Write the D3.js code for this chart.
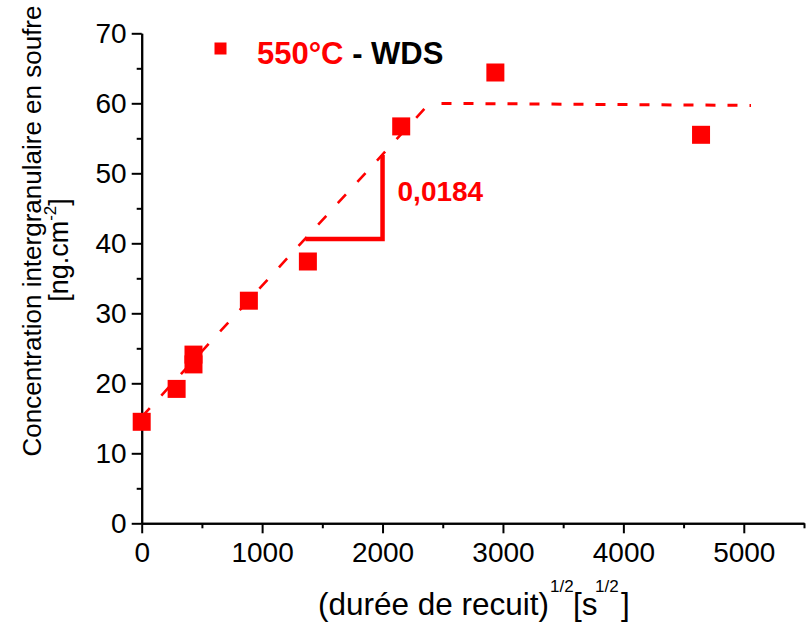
<!DOCTYPE html>
<html>
<head>
<meta charset="utf-8">
<script src="https://cdn.jsdelivr.net/npm/d3@7"></script>
<style>
  body { margin: 0; background: #fff; }
  svg text { font-family: "Liberation Sans", Arial, sans-serif; }
  .axis path, .axis line { stroke: #000; stroke-width: 2; }
  .axis text { font-size: 28px; fill: #000; }
</style>
</head>
<body>
<script>
// measured points: (durée de recuit)^1/2 vs concentration
var xVals = [0, 290, 430, 430, 890, 1380, 2155, 2937, 4645];
var yVals = [14.5, 19.2, 24.1, 22.7, 31.8, 37.4, 56.7, 64.4, 55.5];

// fitted trend (dashed), two pieces
var fitX = [0, 2390, 5060];
var fitY = [15.2, 60.0, 59.7];

// slope triangle
var triX = [1360, 2000, 2000];
var triY = [40.6, 40.6, 52.6];
var slopeLabel = "0,0184";

var xMajor = [0, 1000, 2000, 3000, 4000, 5000];
var xMinor = [500, 1500, 2500, 3500, 4500, 5500];
var yMajor = [0, 10, 20, 30, 40, 50, 60, 70];
var yMinor = [5, 15, 25, 35, 45, 55, 65];

window.onload = function() {
    var svg = d3.select("body").append("svg")
        .attr("width", 808)
        .attr("height", 627);

    var x = d3.scaleLinear().domain([0, 5500]).range([141.7, 804]);
    var y = d3.scaleLinear().domain([0, 70]).range([523.3, 33.3]);

    //minor ticks first, no labels
    svg.append("g").attr("class", "axis")
        .attr("transform", "translate(" + x(0) + ",0)")
        .call(d3.axisLeft(y).tickValues(yMinor).tickSize(5).tickSizeOuter(0).tickFormat(""));
    svg.append("g").attr("class", "axis")
        .attr("transform", "translate(0," + y(0) + ")")
        .call(d3.axisBottom(x).tickValues(xMinor).tickSize(5).tickSizeOuter(0).tickFormat(""));

    svg.append("g").attr("class", "axis")
        .attr("transform", "translate(" + x(0) + ",0)")
        .call(d3.axisLeft(y).tickValues(yMajor).tickSize(10).tickSizeOuter(0).tickPadding(5));
    svg.append("g").attr("class", "axis")
        .attr("transform", "translate(0," + y(0) + ")")
        .call(d3.axisBottom(x).tickValues(xMajor).tickSize(10).tickSizeOuter(0).tickPadding(9)
            .tickFormat(d3.format("d")));

    //dashed fit: rising part and plateau
    var line = d3.line().x(function(d) { return x(d[0]); }).y(function(d) { return y(d[1]); });
    svg.append("path")
        .datum([[fitX[0], fitY[0]], [fitX[1], fitY[1]]])
        .attr("d", line)
        .style("fill", "none").style("stroke", "#ff0000")
        .style("stroke-width", 2.6).style("stroke-dasharray", "12,17");
    svg.append("path")
        .datum([[fitX[1], fitY[1]], [fitX[2], fitY[2]]])
        .attr("d", line)
        .style("fill", "none").style("stroke", "#ff0000")
        .style("stroke-width", 3).style("stroke-dasharray", "10,12")
        .style("stroke-dashoffset", 10);

    //slope triangle
    svg.append("path")
        .datum(triX.map(function(d, i) { return [d, triY[i]]; }))
        .attr("d", line)
        .style("fill", "none").style("stroke", "#ff0000")
        .style("stroke-width", 4.5).style("stroke-linejoin", "miter");

    svg.append("text")
        .attr("x", x(2000) + 15)
        .attr("y", 200.5)
        .style("font-size", "28px").style("font-weight", "bold").style("fill", "#ff0000")
        .text(slopeLabel);

    //data squares
    var size = 18;
    svg.selectAll(".pt")
        .data(xVals)
        .enter()
        .append("rect")
        .attr("class", "pt")
        .attr("x", function(d) { return x(d) - size / 2; })
        .attr("y", function(d, i) { return y(yVals[i]) - size / 2; })
        .attr("width", size)
        .attr("height", size)
        .style("fill", "#ff0000");

    //legend
    svg.append("rect")
        .attr("x", 214.5).attr("y", 42.5).attr("width", 12).attr("height", 12)
        .style("fill", "#ff0000");
    var leg = svg.append("text")
        .attr("x", 257).attr("y", 64)
        .style("font-size", "31px").style("font-weight", "bold");
    leg.append("tspan").style("fill", "#ff0000").text("550°C");
    leg.append("tspan").style("fill", "#000").text(" - WDS");

    //x axis title with superscripts
    var xt = svg.append("text")
        .attr("y", 615)
        .style("font-size", "31.5px");
    xt.append("tspan").attr("x", 318).text("(durée de recuit)");
    xt.append("tspan").attr("x", 550).attr("y", 592).style("font-size", "17px").text("1/2");
    xt.append("tspan").attr("x", 573).attr("y", 615).text("[s");
    xt.append("tspan").attr("x", 595).attr("y", 592).style("font-size", "17px").text("1/2");
    xt.append("tspan").attr("x", 621).attr("y", 615).text("]");

    //y axis title, two lines
    svg.append("text")
        .attr("transform", "translate(41,231) rotate(-90)")
        .attr("text-anchor", "middle")
        .style("font-size", "26px")
        .text("Concentration intergranulaire en soufre");
    var yt2 = svg.append("text")
        .attr("transform", "translate(68,250) rotate(-90)")
        .attr("text-anchor", "middle")
        .style("font-size", "27px");
    yt2.append("tspan").text("[ng.cm");
    yt2.append("tspan").attr("dy", -12).style("font-size", "17px").text("-2");
    yt2.append("tspan").attr("dy", 12).text("]");
};
</script>
</body>
</html>
